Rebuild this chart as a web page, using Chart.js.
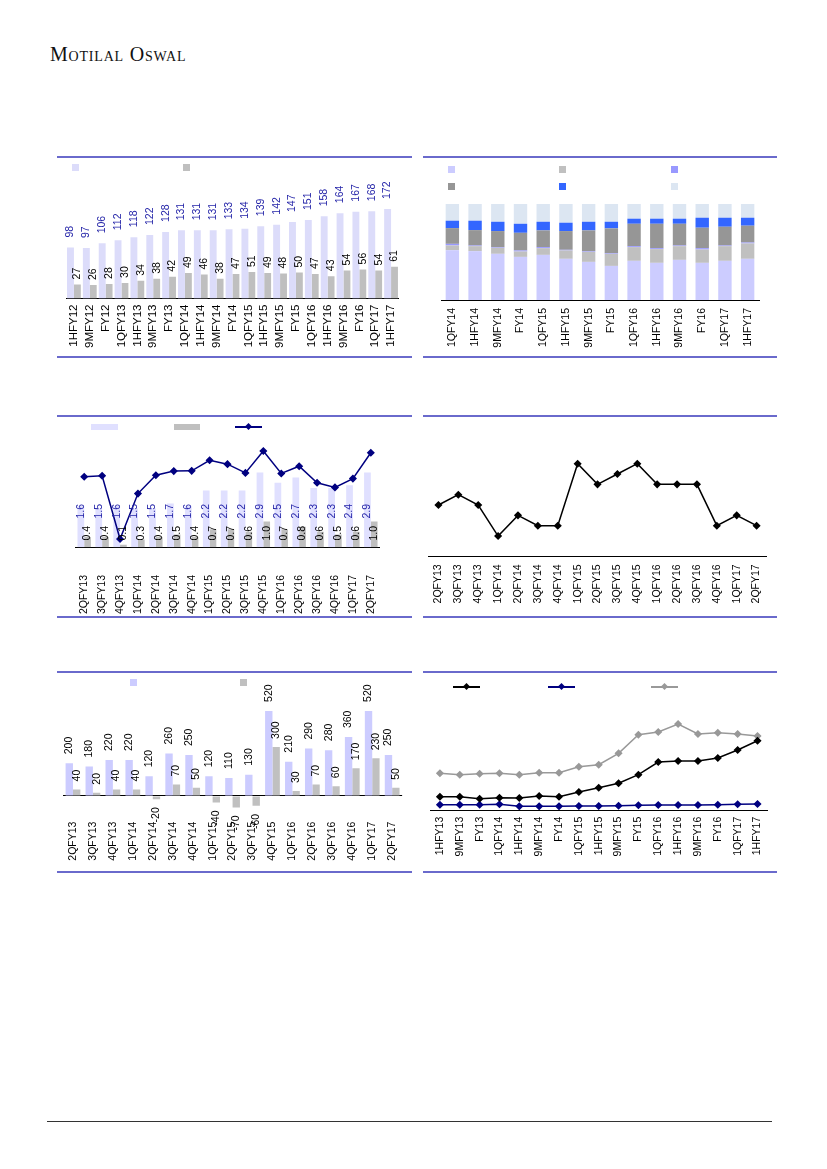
<!DOCTYPE html>
<html>
<head>
<meta charset="utf-8">
<script src="https://cdn.jsdelivr.net/npm/chart.js@4.4.0/dist/chart.umd.min.js"></script>
<style>
  body { margin: 0; background: #fff; width: 827px; height: 1169px; position: relative; overflow: hidden;
         font-family: "Liberation Sans", Arial, sans-serif; }
  .brand { position: absolute; left: 50px; top: 43px; font-family: "Liberation Serif", serif;
           font-variant: small-caps; font-size: 20px; letter-spacing: 0.8px; color: #111; }
  .rule { position: absolute; height: 2px; background: #6a6acc; }
  .foot { position: absolute; left: 47px; top: 1121px; width: 725px; height: 1px; background: #333; }
  canvas { position: absolute; }
  .sw { position: absolute; }
  .dm { position: absolute; width: 5px; height: 5px; transform: rotate(45deg); }
</style>
</head>
<body>
<div class="brand">Motilal Oswal</div>

<!-- panel rules -->
<div class="rule" style="left:57px;top:156px;width:355px"></div>
<div class="rule" style="left:57px;top:356px;width:355px"></div>
<div class="rule" style="left:423px;top:156px;width:354px"></div>
<div class="rule" style="left:423px;top:356px;width:354px"></div>
<div class="rule" style="left:57px;top:415px;width:355px"></div>
<div class="rule" style="left:57px;top:616px;width:355px"></div>
<div class="rule" style="left:423px;top:415px;width:354px"></div>
<div class="rule" style="left:423px;top:616px;width:354px"></div>
<div class="rule" style="left:57px;top:671px;width:355px"></div>
<div class="rule" style="left:57px;top:871px;width:355px"></div>
<div class="rule" style="left:423px;top:671px;width:354px"></div>
<div class="rule" style="left:423px;top:871px;width:354px"></div>
<div class="foot"></div>

<!-- legends (text-less swatches) -->
<div class="sw" style="left:72px;top:164px;width:7px;height:7px;background:#dcdcfa"></div>
<div class="sw" style="left:183px;top:164px;width:7px;height:7px;background:#bfbfbf"></div>

<div class="sw" style="left:448px;top:166px;width:7px;height:7px;background:#ccccff"></div>
<div class="sw" style="left:559px;top:166px;width:7px;height:7px;background:#c0c0c0"></div>
<div class="sw" style="left:671px;top:166px;width:7px;height:7px;background:#9999ff"></div>
<div class="sw" style="left:448px;top:183px;width:7px;height:7px;background:#969696"></div>
<div class="sw" style="left:559px;top:183px;width:7px;height:7px;background:#3366ff"></div>
<div class="sw" style="left:671px;top:183px;width:7px;height:7px;background:#dce6f2"></div>

<div class="sw" style="left:91px;top:424px;width:27px;height:6px;background:#e0e0ff"></div>
<div class="sw" style="left:174px;top:424px;width:26px;height:6px;background:#bfbfbf"></div>
<div class="sw" style="left:235px;top:426px;width:27px;height:2px;background:#000080"></div>
<div class="dm" style="left:246px;top:424px;background:#000080"></div>

<div class="sw" style="left:130px;top:679px;width:7px;height:7px;background:#ccccff"></div>
<div class="sw" style="left:240px;top:679px;width:7px;height:7px;background:#c0c0c0"></div>

<div class="sw" style="left:453px;top:686px;width:27px;height:2px;background:#000"></div>
<div class="dm" style="left:464px;top:684px;background:#000"></div>
<div class="sw" style="left:548px;top:686px;width:27px;height:2px;background:#000080"></div>
<div class="dm" style="left:559px;top:684px;background:#000080"></div>
<div class="sw" style="left:651px;top:686px;width:27px;height:2px;background:#999"></div>
<div class="dm" style="left:662px;top:684px;background:#999"></div>

<canvas id="c1" width="354" height="200" style="left:57px;top:157px"></canvas>
<canvas id="c2" width="354" height="200" style="left:423px;top:157px"></canvas>
<canvas id="c3" width="354" height="201" style="left:57px;top:416px"></canvas>
<canvas id="c4" width="354" height="201" style="left:423px;top:416px"></canvas>
<canvas id="c5" width="354" height="200" style="left:57px;top:672px"></canvas>
<canvas id="c6" width="354" height="200" style="left:423px;top:672px"></canvas>

<script>
// 차트 1: 반기별 두 계열
var halfPeriods = ['1HFY12','9MFY12','FY12','1QFY13','1HFY13','9MFY13','FY13','1QFY14','1HFY14','9MFY14','FY14','1QFY15','1HFY15','9MFY15','FY15','1QFY16','1HFY16','9MFY16','FY16','1QFY17','1HFY17'];
var bookTotal = [98,97,106,112,118,122,128,131,131,131,133,134,139,142,147,151,158,164,167,168,172];
var bookPart = [27,26,28,30,34,38,42,49,46,38,47,51,49,48,50,47,43,54,56,54,61];

// 차트 2: 구성비 (%)
var mixPeriods = ['1QFY14','1HFY14','9MFY14','FY14','1QFY15','1HFY15','9MFY15','FY15','1QFY16','1HFY16','9MFY16','FY16','1QFY17','1HFY17'];
var mix1 = [51.9,50.9,48.1,44.9,47.0,42.9,39.7,35.5,40.8,38.7,41.8,38.7,40.8,42.9];
var mix2 = [4.9,5.2,6.3,5.6,7.0,8.7,10.5,12.6,14.3,14.3,14.3,13.9,15.3,16.0];
var mix3 = [1.7,0.7,0.7,1.1,1.1,0.7,0.7,0.7,1.0,1.0,0.7,1.4,0.7,1.0];
var mix4 = [16.4,16.0,16.7,18.4,17.4,19.5,21.6,25.8,23.3,25.4,22.6,21.3,19.5,17.5];
var mix5 = [7.7,9.8,9.7,9.4,9.0,8.7,9.0,6.9,5.3,5.3,5.3,10.4,9.4,8.3];
var mix6 = [17.4,17.4,18.5,20.6,18.5,19.5,18.5,18.5,15.3,15.3,15.3,14.3,14.3,14.3];

// 차트 3~5: 분기별
var quarters = ['2QFY13','3QFY13','4QFY13','1QFY14','2QFY14','3QFY14','4QFY14','1QFY15','2QFY15','3QFY15','4QFY15','1QFY16','2QFY16','3QFY16','4QFY16','1QFY17','2QFY17'];
var qBar1 = [1.6,1.5,1.6,1.5,1.5,1.7,1.6,2.2,2.2,2.2,2.9,2.5,2.7,2.3,2.3,2.4,2.9];
var qBar2 = [0.4,0.4,0.1,0.3,0.4,0.5,0.4,0.7,0.7,0.6,1.0,0.7,0.8,0.6,0.5,0.6,1.0];
var qLine = [2.73,2.77,0.32,2.08,2.79,2.95,2.96,3.37,3.22,2.88,3.73,2.86,3.14,2.50,2.32,2.66,3.66];

var qRatio = [1.5,1.6,1.5,1.2,1.4,1.3,1.3,1.9,1.7,1.8,1.9,1.7,1.7,1.7,1.3,1.4,1.3];

var qFlow1 = [200,180,220,220,120,260,250,120,110,130,520,210,290,280,360,520,250];
var qFlow2 = [40,20,40,40,-20,70,50,-40,-70,-60,300,30,70,60,170,230,50];

// 차트 6: 세 개의 추이선
var trendPeriods = ['1HFY13','9MFY13','FY13','1QFY14','1HFY14','9MFY14','FY14','1QFY15','1HFY15','9MFY15','FY15','1QFY16','1HFY16','9MFY16','FY16','1QFY17','1HFY17'];
var trendBlack = [13.3,13.3,11.3,12.3,12.0,14.0,13.3,18.0,22.3,26.7,35.3,48.0,49.0,49.0,52.0,60.0,69.3];
var trendNavy = [5.3,5.3,5.3,5.7,3.7,3.7,3.7,4.0,4.0,4.3,4.7,5.0,5.0,5.0,5.3,5.7,6.0];
var trendGrey = [36.7,35.3,36.3,36.7,35.3,37.3,37.3,43.3,45.3,56.7,75.3,78.0,86.0,76.0,77.3,76.0,74.0];

var FONT = '"Liberation Sans", Arial, sans-serif';
var oneDec = function(v) { return v.toFixed(1); };

// 값 라벨 설정 (캔버스 id 별로)
var labelSpecs = {
  c1: [ { dataset: 0, color: '#2424a8', offset: 10 },
        { dataset: 1, color: '#000', offset: 5 } ],
  c3: [ { dataset: 1, color: '#2424a8', at: 36, format: oneDec },
        { dataset: 2, color: '#000', at: 14, format: oneDec } ],
  c5: [ { dataset: 0, color: '#000', offset: 9 },
        { dataset: 1, color: '#000', offset: 8 } ]
};

// 막대 위에 세로로 값 표시하는 플러그인
var barLabels = {
  id: 'barLabels',
  afterDatasetsDraw: function(chart) {
    var specs = labelSpecs[chart.canvas.id] || [];
    var ctx = chart.ctx;
    var zero = chart.scales.y.getPixelForValue(0);
    specs.forEach(function(it) {
      var meta = chart.getDatasetMeta(it.dataset);
      var vals = chart.data.datasets[it.dataset].data;
      meta.data.forEach(function(bar, i) {
        var v = vals[i];
        var y;
        ctx.save();
        ctx.font = (it.size || 10.5) + 'px ' + FONT;
        ctx.fillStyle = it.color;
        ctx.textBaseline = 'middle';
        if (it.at !== undefined) {
          y = zero - it.at;
          ctx.textAlign = 'center';
        } else if (v >= 0) {
          y = bar.y - it.offset;
          ctx.textAlign = 'left';
        } else {
          y = bar.y + it.offset;
          ctx.textAlign = 'right';
        }
        ctx.translate(bar.x, y);
        ctx.rotate(-Math.PI / 2);
        ctx.fillText(it.format ? it.format(v) : String(v), 0, 0);
        ctx.restore();
      });
    });
  }
};

function xAxis(height, pad, size) {
  return {
    grid: { display: false, drawTicks: false },
    border: { display: true, color: '#000', width: 1 },
    ticks: { autoSkip: false, maxRotation: 90, minRotation: 90, padding: pad, color: '#000',
             font: { family: FONT, size: size } },
    afterFit: function(s) { s.height = height; }
  };
}

function baseOptions(pad, x, y) {
  return {
    responsive: false,
    animation: false,
    layout: { padding: pad },
    plugins: { legend: { display: false }, tooltip: { enabled: false } },
    scales: { x: x, y: y }
  };
}

// 차트 1
new Chart(document.getElementById('c1'), {
  type: 'bar',
  data: {
    labels: halfPeriods,
    datasets: [
      { data: bookTotal, backgroundColor: '#dcdcfa', categoryPercentage: 0.87, barPercentage: 1 },
      { data: bookPart, backgroundColor: '#bfbfbf', categoryPercentage: 0.87, barPercentage: 1 }
    ]
  },
  options: baseOptions({ left: 9, right: 6, top: 25, bottom: 0 },
    xAxis(58.5, 6, 11.5),
    { display: false, min: 0, max: 224 }),
  plugins: [barLabels]
});

// 차트 2
new Chart(document.getElementById('c2'), {
  type: 'bar',
  data: {
    labels: mixPeriods,
    datasets: [
      { data: mix1, backgroundColor: '#ccccff' },
      { data: mix2, backgroundColor: '#c0c0c0' },
      { data: mix3, backgroundColor: '#9999ff' },
      { data: mix4, backgroundColor: '#969696' },
      { data: mix5, backgroundColor: '#3366ff' },
      { data: mix6, backgroundColor: '#dce6f2' }
    ]
  },
  options: (function() {
    var o = baseOptions({ left: 18, right: 18, top: 47, bottom: 0 },
      xAxis(57, 8, 10.5),
      { display: false, stacked: true, min: 0, max: 100 });
    o.scales.x.stacked = true;
    o.datasets = { bar: { barPercentage: 0.59, categoryPercentage: 1 } };
    return o;
  })()
});

// 차트 3
new Chart(document.getElementById('c3'), {
  type: 'bar',
  data: {
    labels: quarters,
    datasets: [
      { type: 'line', data: qLine, borderColor: '#000080', backgroundColor: '#000080', borderWidth: 1.5,
        pointStyle: 'rectRot', pointRadius: 3, tension: 0, order: 0 },
      { data: qBar1, backgroundColor: '#e0e0ff', categoryPercentage: 0.75, barPercentage: 1, order: 1 },
      { data: qBar2, backgroundColor: '#bfbfbf', categoryPercentage: 0.75, barPercentage: 1, order: 1 }
    ]
  },
  options: baseOptions({ left: 9, right: 5, top: 28, bottom: 0 },
    xAxis(69.7, 27.7, 10.5),
    { display: false, min: 0, max: 4 }),
  plugins: [barLabels]
});

// 차트 4
new Chart(document.getElementById('c4'), {
  type: 'line',
  data: {
    labels: quarters,
    datasets: [
      { data: qRatio, borderColor: '#000', backgroundColor: '#000', borderWidth: 1.5,
        pointStyle: 'rectRot', pointRadius: 3, tension: 0 }
    ]
  },
  options: (function() {
    var o = baseOptions({ left: 5, right: 7, top: 16.7, bottom: 0 },
      xAxis(60.3, 7.6, 10.5),
      { display: false, min: 1.0, max: 2.2 });
    o.scales.x.offset = true;
    return o;
  })()
});

// 차트 5
new Chart(document.getElementById('c5'), {
  type: 'bar',
  data: {
    labels: quarters,
    datasets: [
      { data: qFlow1, backgroundColor: '#ccccff', categoryPercentage: 0.74, barPercentage: 1 },
      { data: qFlow2, backgroundColor: '#c0c0c0', categoryPercentage: 0.74, barPercentage: 1 }
    ]
  },
  options: (function() {
    var x = xAxis(56.4, 6, 10.5);
    x.border = { display: false };
    return baseOptions({ left: 6, right: 8, top: 17.7, bottom: 0 },
      x,
      { display: true, min: -120, max: 650,
        ticks: { display: false, stepSize: 10 },
        grid: { drawTicks: false, lineWidth: 1,
                color: function(c) { return c.tick && c.tick.value === 0 ? '#000' : 'rgba(0,0,0,0)'; } },
        border: { display: false },
        afterFit: function(s) { s.width = 0; } });
  })(),
  plugins: [barLabels]
});

// 차트 6
new Chart(document.getElementById('c6'), {
  type: 'line',
  data: {
    labels: trendPeriods,
    datasets: [
      { data: trendBlack, borderColor: '#000', backgroundColor: '#000', borderWidth: 1.5,
        pointStyle: 'rectRot', pointRadius: 3, tension: 0 },
      { data: trendNavy, borderColor: '#000080', backgroundColor: '#000080', borderWidth: 1.5,
        pointStyle: 'rectRot', pointRadius: 3, tension: 0 },
      { data: trendGrey, borderColor: '#999', backgroundColor: '#999', borderWidth: 1.5,
        pointStyle: 'rectRot', pointRadius: 3, tension: 0 }
    ]
  },
  options: (function() {
    var o = baseOptions({ left: 7, right: 7, top: 28, bottom: 0 },
      xAxis(62, 6.7, 10.5),
      { display: false, min: 0, max: 110 });
    o.scales.x.offset = true;
    return o;
  })()
});
</script>
</body>
</html>
